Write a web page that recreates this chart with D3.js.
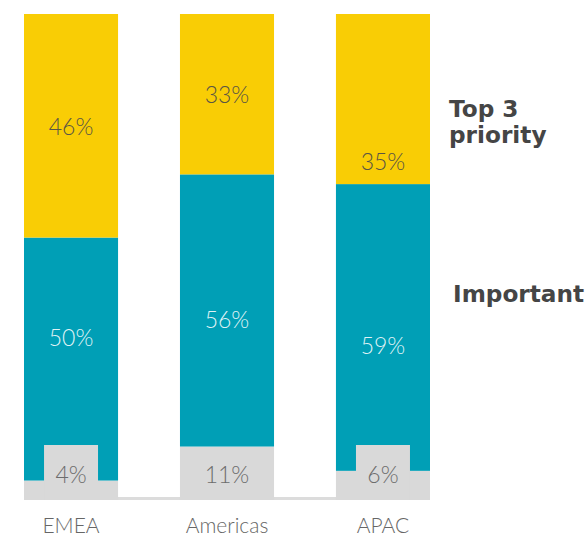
<!DOCTYPE html>
<html>
<head>
<meta charset="utf-8">
<script src="https://cdn.jsdelivr.net/npm/d3@7"></script>
<style>
  html, body { margin: 0; padding: 0; background: #fff; }
  svg { display: block; }
</style>
</head>
<body>
<svg id="chart" width="585" height="540"></svg>
<script>
// Regions and the share of respondents per answer (percent)
const regions = ["EMEA", "Americas", "APAC"];
const notImportant = [4, 11, 6];
const important = [50, 56, 59];
const top3 = [46, 33, 35];

// Series, bottom to top of each stack
const seriesKeys = ["other", "important", "top3"];
const seriesNames = ["", "Important", "Top 3 priority"];

// Where each value label sits inside its segment (0 = bottom, 1 = top)
const labelAnchor = {
  important: [0.59, 0.47, 0.44],
  top3: [0.5, 0.5, 0.135]
};

const colors = { other: "#d9d9d9", important: "#009fb6", top3: "#f9cd05" };
const labelColors = { other: "#6c6c6c", important: "#dff2f5", top3: "#5a5544" };

const rows = regions.map((r, i) => ({
  region: r, other: notImportant[i], important: important[i], top3: top3[i]
}));

const svg = d3.select("#chart");

const x = d3.scaleBand().domain(regions).range([24, 430]).paddingInner(0.397).paddingOuter(0);
const y = d3.scaleLinear().domain([0, 100]).range([500, 14]);

const stack = d3.stack().keys(seriesKeys)(rows);

// Baseline rule under the bars
svg.append("rect")
  .attr("x", x.range()[0]).attr("y", y(0) - 3)
  .attr("width", x.range()[1] - x.range()[0]).attr("height", 3)
  .attr("fill", "#dcdcdc");

const layers = svg.selectAll("g.layer").data(stack).join("g")
  .attr("class", "layer")
  .attr("fill", d => colors[d.key]);

layers.selectAll("rect").data(d => d).join("rect")
  .attr("x", d => x(d.data.region))
  .attr("y", d => y(d[1]))
  .attr("width", x.bandwidth())
  .attr("height", d => y(d[0]) - y(d[1]));

const labelFont = "Lato, 'Open Sans', sans-serif";

// Thin bottom segments get a label tab so the value fits
const tabW = 54, tabH = 55;
const otherLayer = stack[0];
const segH = d => y(d[0]) - y(d[1]);
const needsTab = d => segH(d) < tabH * 0.75;
const labelTop = d => needsTab(d) ? y(0) - tabH : y(d[1]);

svg.append("g").selectAll("rect")
  .data(otherLayer.filter(needsTab))
  .join("rect")
  .attr("x", d => x(d.data.region) + x.bandwidth() / 2 - tabW / 2)
  .attr("y", labelTop)
  .attr("width", tabW)
  .attr("height", d => y(0) - labelTop(d))
  .attr("fill", colors.other);

svg.append("g").selectAll("text").data(otherLayer).join("text")
  .attr("x", d => x(d.data.region) + x.bandwidth() / 2)
  .attr("y", d => (labelTop(d) + y(0)) / 2 + 1)
  .attr("text-anchor", "middle")
  .attr("dominant-baseline", "central")
  .attr("font-family", labelFont)
  .attr("font-weight", 300)
  .attr("font-size", 23)
  .attr("fill", labelColors.other)
  .text(d => (d[1] - d[0]) + "%");

// Value labels for the upper two segments
["important", "top3"].forEach(key => {
  const layer = stack.find(s => s.key === key);
  svg.append("g").selectAll("text").data(layer).join("text")
    .attr("x", d => x(d.data.region) + x.bandwidth() / 2)
    .attr("y", (d, i) => y(d[0] + (d[1] - d[0]) * labelAnchor[key][i]))
    .attr("text-anchor", "middle")
    .attr("dominant-baseline", "central")
    .attr("font-family", labelFont)
    .attr("font-weight", 300)
    .attr("font-size", 23)
    .attr("fill", labelColors[key])
    .text(d => (d[1] - d[0]) + "%");
});

// Category axis
const xAxis = svg.append("g")
  .attr("transform", `translate(0, ${y(0)})`)
  .call(d3.axisBottom(x).tickSize(0).tickPadding(18));
xAxis.select(".domain").remove();
xAxis.selectAll("text")
  .attr("font-family", labelFont)
  .attr("font-weight", 300)
  .attr("font-size", 21)
  .attr("fill", "#666");

// Series names to the right of the last bar
const legendFont = "'DejaVu Sans', sans-serif";
const legend = svg.append("g")
  .attr("font-family", legendFont)
  .attr("font-weight", "bold")
  .attr("font-size", 23.2)
  .attr("fill", "#454545");

const top3Words = seriesNames[2].split(" ");
const top3Label = legend.append("text").attr("x", 449).attr("y", 117);
[top3Words.slice(0, 2), top3Words.slice(2)].forEach((ws, i) => {
  top3Label.append("tspan").attr("x", 449).attr("dy", i === 0 ? 0 : 26).text(ws.join(" "));
});

legend.append("text").attr("x", 453).attr("y", 301.5).text(seriesNames[1]);
</script>
</body>
</html>
